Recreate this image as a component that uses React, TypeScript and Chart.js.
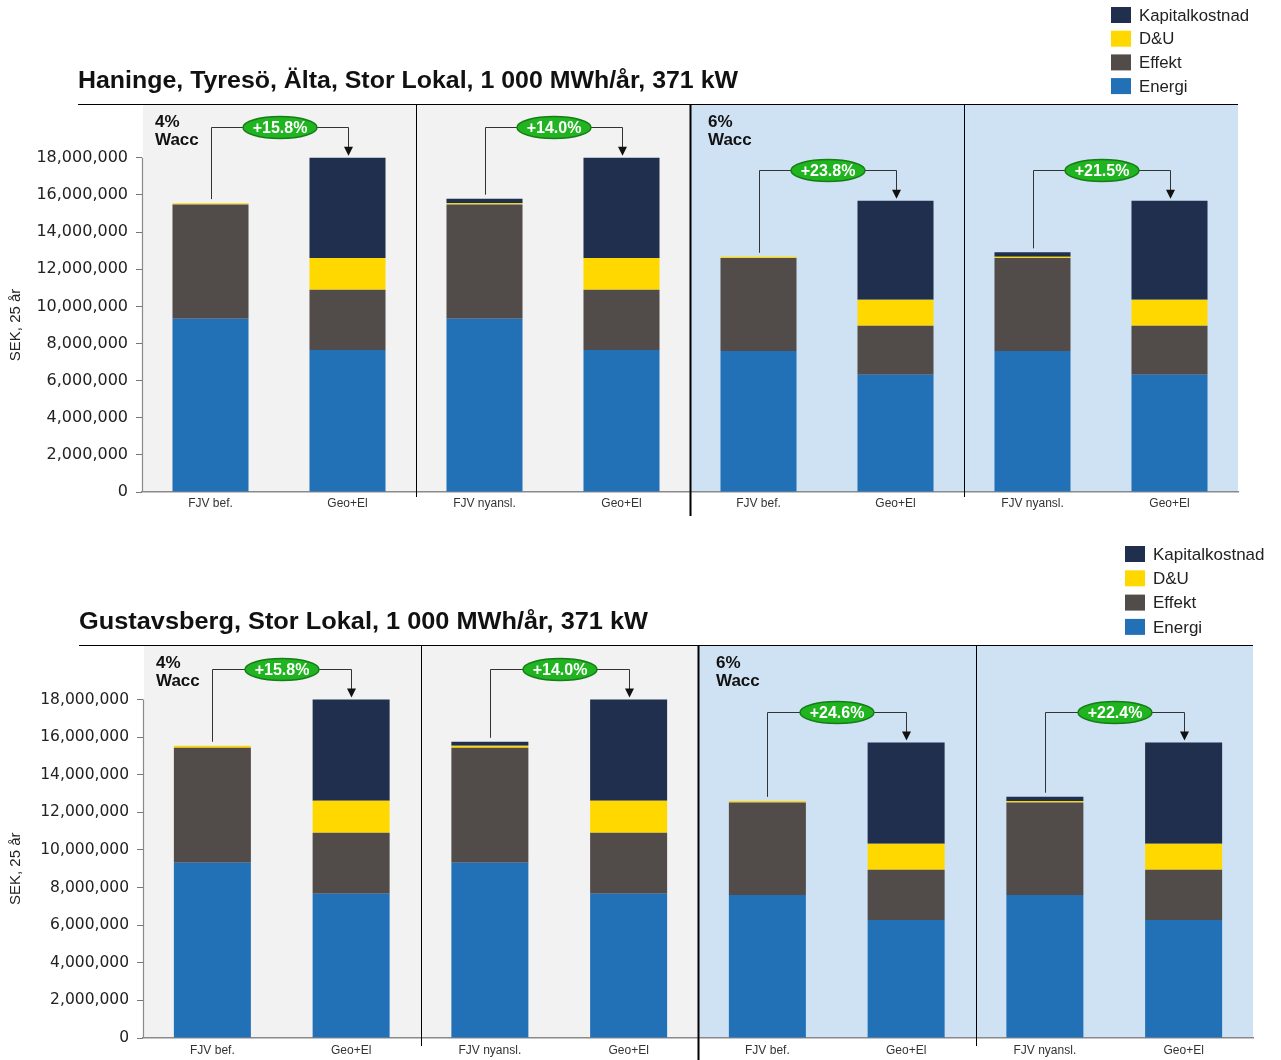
import React, { useEffect, useRef } from 'react';
import { Chart, registerables } from 'chart.js';

Chart.register(...registerables);

// ---------- data ----------
const CATEGORIES = ['FJV bef.', 'Geo+El', 'FJV nyansl.', 'Geo+El', 'FJV bef.', 'Geo+El', 'FJV nyansl.', 'Geo+El'];
const SERIES_NAMES = ['Energi', 'Effekt', 'D&U', 'Kapitalkostnad'];
const SERIES_COLORS = ['#2271b6', '#514c49', '#ffd800', '#1f2f4d'];
const Y_TICKS = [0, 2000000, 4000000, 6000000, 8000000, 10000000, 12000000, 14000000, 16000000, 18000000];
const Y_TITLE = 'SEK, 25 år';
const WACC_4 = ['4%', 'Wacc'];
const WACC_6 = ['6%', 'Wacc'];

const TITLE_1 = 'Haninge, Tyresö, Älta, Stor Lokal, 1 000 MWh/år, 371 kW';
const ENERGI_1 = [9330000, 7650000, 9330000, 7650000, 7600000, 6310000, 7600000, 6310000];
const EFFEKT_1 = [6150000, 3240000, 6150000, 3240000, 5000000, 2640000, 5000000, 2640000];
const DU_1 = [80000, 1720000, 80000, 1720000, 70000, 1400000, 70000, 1400000];
const KAPITAL_1 = [0, 5390000, 240000, 5390000, 0, 5340000, 240000, 5340000];
const CHANGE_1 = ['+15.8%', '+14.0%', '+23.8%', '+21.5%'];

const TITLE_2 = 'Gustavsberg, Stor Lokal, 1 000 MWh/år, 371 kW';
const ENERGI_2 = [9320000, 7670000, 9320000, 7670000, 7610000, 6280000, 7610000, 6280000];
const EFFEKT_2 = [6120000, 3250000, 6120000, 3250000, 4920000, 2670000, 4920000, 2670000];
const DU_2 = [100000, 1700000, 100000, 1700000, 80000, 1380000, 80000, 1380000];
const KAPITAL_2 = [0, 5380000, 210000, 5380000, 0, 5380000, 220000, 5380000];
const CHANGE_2 = ['+15.8%', '+14.0%', '+24.6%', '+22.4%'];

type Layout = {
  padTop: number;
  padRight: number;
  axisLeft: number;
  axisBottom: number;
  titleX: number;
  titleWidth: number;
  legendX: number;
  legendY: number;
  legendGap: number;
  legendFont: number;
  tickFont: number;
  thinSepExtra: number;
  thickSepBottom: number;
  labelPad: number;
};

const SANS = '"Liberation Sans", Arial, sans-serif';

function makeOverlay(title: string, changes: string[], L: Layout) {
  return {
    id: 'overlay',
    beforeDraw(chart: any) {
      const { ctx, chartArea: a, scales } = chart;
      const x = scales.x;
      const mid = (x.getPixelForValue(3) + x.getPixelForValue(4)) / 2;
      ctx.save();
      ctx.fillStyle = '#ffffff';
      ctx.fillRect(0, 0, chart.width, chart.height);
      ctx.fillStyle = '#f2f2f2';
      ctx.fillRect(a.left + 1, a.top, mid - a.left - 1, a.bottom - a.top);
      ctx.fillStyle = '#cfe2f3';
      ctx.fillRect(mid, a.top, a.right - mid, a.bottom - a.top);
      ctx.restore();
    },
    afterDraw(chart: any) {
      const { ctx, chartArea: a, scales } = chart;
      const x = scales.x;
      const y = scales.y;
      ctx.save();

      // separators
      [1, 3, 5].forEach((i) => {
        const sx = Math.round((x.getPixelForValue(i) + x.getPixelForValue(i + 1)) / 2) + 0.5;
        ctx.beginPath();
        ctx.strokeStyle = '#000';
        if (i === 3) {
          ctx.lineWidth = 2;
          ctx.moveTo(sx, a.top);
          ctx.lineTo(sx, L.thickSepBottom);
        } else {
          ctx.lineWidth = 1;
          ctx.moveTo(sx, a.top);
          ctx.lineTo(sx, a.bottom + L.thinSepExtra);
        }
        ctx.stroke();
      });

      // top rule
      ctx.beginPath();
      ctx.strokeStyle = '#000';
      ctx.lineWidth = 1.2;
      ctx.moveTo(L.titleX, a.top + 0.5);
      ctx.lineTo(a.right, a.top + 0.5);
      ctx.stroke();

      // y axis line
      ctx.beginPath();
      ctx.strokeStyle = '#8a8a8a';
      ctx.lineWidth = 1.2;
      ctx.moveTo(a.left + 0.5, y.getPixelForValue(Y_TICKS[Y_TICKS.length - 1]));
      ctx.lineTo(a.left + 0.5, y.getPixelForValue(0));
      ctx.stroke();

      // title
      ctx.fillStyle = '#111';
      ctx.font = `bold 23px ${SANS}`;
      ctx.textBaseline = 'alphabetic';
      ctx.textAlign = 'left';
      const tw = ctx.measureText(title).width;
      ctx.save();
      ctx.translate(L.titleX, a.top - 16);
      ctx.scale(L.titleWidth / tw, 1);
      ctx.fillText(title, 0, 0);
      ctx.restore();

      // legend (reverse order)
      const ds = chart.data.datasets;
      ctx.font = `${L.legendFont}px ${SANS}`;
      ctx.textBaseline = 'middle';
      for (let k = ds.length - 1, r = 0; k >= 0; k--, r++) {
        const cy = L.legendY + r * L.legendGap;
        ctx.fillStyle = ds[k].backgroundColor;
        ctx.fillRect(L.legendX, cy - 8, 20, 16);
        ctx.fillStyle = '#222';
        ctx.fillText(ds[k].label, L.legendX + 28, cy + 1);
      }

      // y title
      const yMid = (y.getPixelForValue(0) + y.getPixelForValue(Y_TICKS[Y_TICKS.length - 1])) / 2;
      ctx.save();
      ctx.translate(16, yMid);
      ctx.rotate(-Math.PI / 2);
      ctx.font = `15px ${SANS}`;
      ctx.fillStyle = '#222';
      ctx.textAlign = 'center';
      ctx.textBaseline = 'middle';
      ctx.fillText(Y_TITLE, 0, 0);
      ctx.restore();

      // wacc labels
      ctx.font = `bold 17px ${SANS}`;
      ctx.fillStyle = '#111';
      ctx.textAlign = 'left';
      ctx.textBaseline = 'middle';
      const mid = (x.getPixelForValue(3) + x.getPixelForValue(4)) / 2;
      ctx.fillText(WACC_4[0], a.left + 13, a.top + 18);
      ctx.fillText(WACC_4[1], a.left + 13, a.top + 36);
      ctx.fillText(WACC_6[0], mid + 18, a.top + 18);
      ctx.fillText(WACC_6[1], mid + 18, a.top + 36);

      // change annotations
      const totals = CATEGORIES.map((_, j) =>
        ds.reduce((s: number, d: any) => s + (d.data[j] as number), 0)
      );
      changes.forEach((txt, g) => {
        const i0 = g * 2;
        const i1 = g * 2 + 1;
        const x0 = Math.round(x.getPixelForValue(i0)) + 0.5;
        const x1 = Math.round(x.getPixelForValue(i1)) + 0.5;
        const top0 = y.getPixelForValue(totals[i0]);
        const top1 = y.getPixelForValue(totals[i1]);
        const by = Math.round(top1 - 31) + 0.5;
        ctx.beginPath();
        ctx.strokeStyle = '#333';
        ctx.lineWidth = 1;
        ctx.moveTo(x0, top0 - 4);
        ctx.lineTo(x0, by);
        ctx.lineTo(x1, by);
        ctx.lineTo(x1, top1 - 10);
        ctx.stroke();
        ctx.beginPath();
        ctx.fillStyle = '#111';
        ctx.moveTo(x1 - 4.5, top1 - 11);
        ctx.lineTo(x1 + 4.5, top1 - 11);
        ctx.lineTo(x1, top1 - 2);
        ctx.closePath();
        ctx.fill();

        const cx = (x0 + x1) / 2;
        ctx.beginPath();
        ctx.ellipse(cx, by, 37, 11, 0, 0, Math.PI * 2);
        ctx.fillStyle = '#21b421';
        ctx.fill();
        ctx.lineWidth = 1.5;
        ctx.strokeStyle = '#157d15';
        ctx.stroke();
        ctx.fillStyle = '#ffffff';
        ctx.font = `bold 16px ${SANS}`;
        ctx.textAlign = 'center';
        ctx.textBaseline = 'middle';
        ctx.fillText(txt, cx, by + 1);
      });

      ctx.restore();
    },
  };
}

type Props = {
  title: string;
  energi: number[];
  effekt: number[];
  du: number[];
  kapital: number[];
  changes: string[];
  layout: Layout;
  top: number;
};

function StackChart({ title, energi, effekt, du, kapital, changes, layout: L, top }: Props) {
  const ref = useRef<HTMLCanvasElement>(null);
  useEffect(() => {
    if (!ref.current) return;
    const values = [energi, effekt, du, kapital];
    const chart = new Chart(ref.current, {
      type: 'bar',
      data: {
        labels: CATEGORIES,
        datasets: SERIES_NAMES.map((name, k) => ({
          label: name,
          data: values[k],
          backgroundColor: SERIES_COLORS[k],
          borderWidth: 0,
          barPercentage: 0.555,
          categoryPercentage: 1.0,
        })),
      },
      options: {
        responsive: false,
        animation: false,
        devicePixelRatio: 1,
        layout: { padding: { left: 0, top: L.padTop, right: L.padRight, bottom: 0 } },
        plugins: { legend: { display: false }, tooltip: { enabled: false }, title: { display: false } },
        scales: {
          x: {
            stacked: true,
            afterFit: (s: any) => {
              s.height = L.axisBottom;
            },
            grid: { display: false, drawTicks: false },
            border: { display: true, color: '#8a8a8a', width: 1.5 },
            ticks: {
              padding: L.labelPad,
              color: '#333',
              font: { family: 'Liberation Sans', size: 12 },
              maxRotation: 0,
              autoSkip: false,
            },
          },
          y: {
            stacked: true,
            min: 0,
            max: 20900000,
            afterBuildTicks: (s: any) => {
              s.ticks = Y_TICKS.map((v) => ({ value: v }));
            },
            afterFit: (s: any) => {
              s.width = L.axisLeft;
            },
            border: { display: false },
            grid: { display: true, drawOnChartArea: false, drawTicks: true, tickLength: 6, color: '#777', lineWidth: 1 },
            ticks: {
              padding: 8,
              color: '#222',
              font: { family: 'DejaVu Sans', size: L.tickFont },
              callback: (v: any) => Number(v).toLocaleString('en-US'),
            },
          },
        },
      },
      plugins: [makeOverlay(title, changes, L)],
    } as any);
    return () => chart.destroy();
  }, []);
  return (
    <canvas
      ref={ref}
      width={1281}
      height={530}
      style={{ position: 'absolute', left: 0, top, width: 1281, height: 530, display: 'block' }}
    />
  );
}

const LAYOUT_1: Layout = {
  padTop: 104,
  padRight: 43,
  axisLeft: 142,
  axisBottom: 38,
  titleX: 78,
  titleWidth: 660,
  legendX: 1111,
  legendY: 15,
  legendGap: 23.7,
  legendFont: 16.8,
  tickFont: 16,
  thinSepExtra: 5,
  thickSepBottom: 516,
  labelPad: 4,
};

const LAYOUT_2: Layout = {
  padTop: 115,
  padRight: 28,
  axisLeft: 143,
  axisBottom: 22,
  titleX: 79,
  titleWidth: 569,
  legendX: 1125,
  legendY: 24,
  legendGap: 24.3,
  legendFont: 17,
  tickFont: 15.5,
  thinSepExtra: 8,
  thickSepBottom: 530,
  labelPad: 5,
};

export default function App() {
  return (
    <div style={{ position: 'absolute', left: 0, top: 0, width: 1281, height: 1060, background: '#fff' }}>
      <StackChart
        title={TITLE_1}
        energi={ENERGI_1}
        effekt={EFFEKT_1}
        du={DU_1}
        kapital={KAPITAL_1}
        changes={CHANGE_1}
        layout={LAYOUT_1}
        top={0}
      />
      <StackChart
        title={TITLE_2}
        energi={ENERGI_2}
        effekt={EFFEKT_2}
        du={DU_2}
        kapital={KAPITAL_2}
        changes={CHANGE_2}
        layout={LAYOUT_2}
        top={530}
      />
    </div>
  );
}
